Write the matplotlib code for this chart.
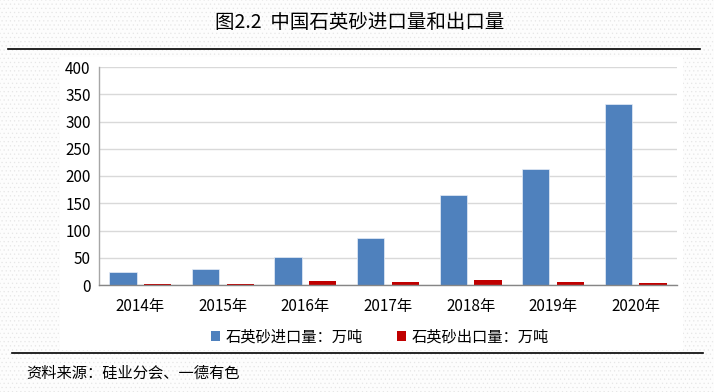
import matplotlib
matplotlib.use("Agg")
import matplotlib.pyplot as plt
from matplotlib.patches import Rectangle, Patch
from matplotlib.lines import Line2D
import numpy as np

plt.rcParams['font.family'] = ['Noto Sans CJK SC', 'DejaVu Sans']

years = ["2014年", "2015年", "2016年", "2017年", "2018年", "2019年", "2020年"]
imports = [24.5, 30, 52, 87, 166, 213.5, 333]
exports = [1.5, 1.5, 7.5, 5.5, 9, 5.5, 4]
series_names = ["石英砂进口量：万吨", "石英砂出口量：万吨"]
yticks = [0, 50, 100, 150, 200, 250, 300, 350, 400]

title = "图2.2  中国石英砂进口量和出口量"
source = "资料来源：硅业分会、一德有色"

W, H = 714, 392
fig = plt.figure(figsize=(W / 100, H / 100), dpi=100)
fig.patch.set_facecolor("#fcfcfc")

# dotted background
plt.rcParams['hatch.color'] = '#e6e6e6'
plt.rcParams['hatch.linewidth'] = 0.4
bg = Rectangle((0, 0), 1, 1, transform=fig.transFigure, facecolor="#fdfdfd",
               edgecolor="#e6e6e6", hatch="....", linewidth=0, zorder=-10)
fig.patches.append(bg)
# white chart region
wr = Rectangle((60 / W, 1 - 350 / H), (683 - 60) / W, (350 - 57) / H,
               transform=fig.transFigure, facecolor="white", edgecolor="none", zorder=-9)
fig.patches.append(wr)

ax = fig.add_axes([99 / W, 1 - 285 / H, (677 - 99) / W, (285 - 67) / H])
ax.set_facecolor("white")
x = np.arange(len(years))
bw = 0.33
ax.bar(x - 0.21, imports, width=bw, color="#4F81BD", edgecolor="#e8eef7", linewidth=0.5, zorder=3)
ax.bar(x + 0.21, exports, width=bw, color="#C00000", linewidth=0, zorder=3)

ax.set_xlim(-0.5, len(years) - 0.5)
ax.set_ylim(0, 400)
ax.set_yticks(yticks)
ax.set_yticklabels([str(v) for v in yticks], fontsize=11)
ax.set_xticks(x)
ax.set_xticklabels(years, fontsize=11)
ax.tick_params(axis='x', length=0, pad=9)
ax.tick_params(axis='y', length=0, pad=6)
ax.grid(axis='y', color="#d9d9d9", linewidth=1, zorder=0)
for s in ["top", "right"]:
    ax.spines[s].set_visible(False)
ax.spines["left"].set_color("#a6a6a6")
ax.spines["bottom"].set_color("#868686")
ax.spines["left"].set_linewidth(1)
ax.spines["bottom"].set_linewidth(1)
ax.spines["bottom"].set_zorder(4)

handles = [Patch(facecolor="#4F81BD", edgecolor="none"),
           Patch(facecolor="#C00000", edgecolor="none")]
fig.legend(handles, series_names, loc="center", bbox_to_anchor=(380 / W, 1 - 337 / H),
           ncol=2, frameon=False, fontsize=11, handlelength=0.6, handleheight=0.6,
           handletextpad=0.4, columnspacing=2.2)

fig.text(360 / W, 1 - 23 / H, title, ha="center", va="center", fontsize=14)
fig.add_artist(Line2D([8 / W, 700 / W], [1 - 49 / H, 1 - 49 / H], color="black", linewidth=1.2))
fig.add_artist(Line2D([12 / W, 703 / W], [1 - 353 / H, 1 - 353 / H], color="black", linewidth=1.2))
fig.text(26 / W, 1 - 373 / H, source, ha="left", va="center", fontsize=11, style="italic")

fig.savefig("out.png", dpi=100, facecolor=fig.get_facecolor())
